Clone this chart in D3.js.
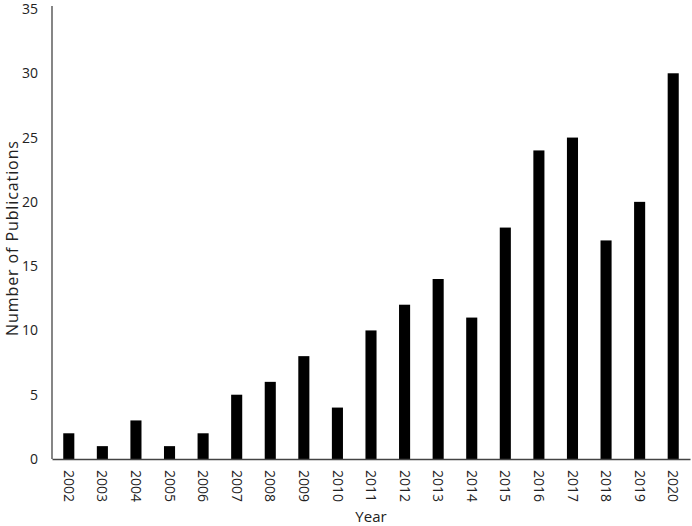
<!DOCTYPE html>
<html>
<head>
<meta charset="utf-8">
<script src="https://cdn.jsdelivr.net/npm/d3@7"></script>
<style>
  body { margin: 0; background: #fff; }
  svg text { font-family: "Open Sans", sans-serif; fill: #222; }
</style>
</head>
<body>
<svg width="692" height="526"></svg>
<script>
// publications per year
const years = ['2002','2003','2004','2005','2006','2007','2008','2009','2010','2011',
               '2012','2013','2014','2015','2016','2017','2018','2019','2020'];
const counts = [2, 1, 3, 1, 2, 5, 6, 8, 4, 10, 12, 14, 11, 18, 24, 25, 17, 20, 30];
const yTicks = [0, 5, 10, 15, 20, 25, 30, 35];

const svg = d3.select('svg');
const margin = {left: 52, right: 2, top: 9, bottom: 67};
const width = 692 - margin.left - margin.right;
const height = 526 - margin.top - margin.bottom;

const g = svg.append('g').attr('transform', `translate(${margin.left},${margin.top})`);

const x = d3.scaleBand().domain(years).range([0, width]).paddingInner(0.67).paddingOuter(0.335);
const y = d3.scaleLinear().domain([0, 35]).range([height, 0]);

// bars
g.selectAll('rect')
  .data(years)
  .enter().append('rect')
    .attr('x', d => x(d))
    .attr('y', (d, i) => y(counts[i]))
    .attr('width', x.bandwidth())
    .attr('height', (d, i) => height - y(counts[i]))
    .attr('fill', '#000');

// y axis, no tick marks
const yAxis = g.append('g')
  .call(d3.axisLeft(y).tickValues(yTicks).tickSize(0).tickPadding(14));
yAxis.select('.domain').attr('d', `M0,-3V${height}`).attr('stroke', '#444').attr('stroke-width', 1.3);
yAxis.selectAll('text').style('font-size', '14px');

// x axis with labels rotated
const xAxis = g.append('g')
  .attr('transform', `translate(0,${height})`)
  .call(d3.axisBottom(x).tickSize(0));
xAxis.select('.domain').attr('stroke', '#444').attr('stroke-width', 1.3);
xAxis.selectAll('text')
  .style('font-size', '14px')
  .attr('transform', 'rotate(90)')
  .attr('x', 11)
  .attr('y', 0)
  .attr('dy', '0.35em')
  .attr('text-anchor', 'start');

// axis titles
svg.append('text')
  .attr('x', 371)
  .attr('y', 522)
  .attr('text-anchor', 'middle')
  .style('font-size', '15px')
  .text('Year');

svg.append('text')
  .attr('transform', 'translate(17.5,238) rotate(-90)')
  .attr('text-anchor', 'middle')
  .style('font-size', '16px')
  .style('letter-spacing', '0.9px')
  .text('Number of Publications');
</script>
</body>
</html>
